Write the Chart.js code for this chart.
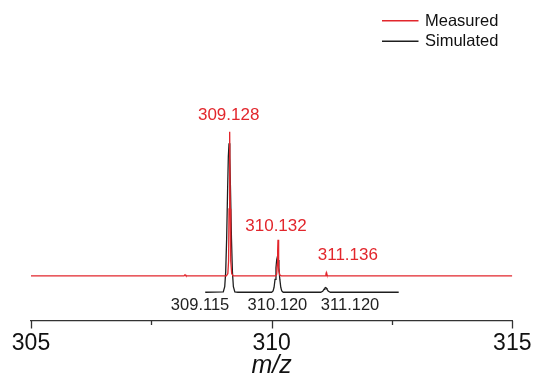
<!DOCTYPE html>
<html>
<head>
<meta charset="utf-8">
<title>m/z spectrum</title>
<script src="https://cdn.jsdelivr.net/npm/chart.js@4.4.1/dist/chart.umd.min.js"></script>
<style>
  html, body { margin: 0; padding: 0; background: #ffffff; }
  canvas { display: block; }
</style>
</head>
<body>
<canvas id="spectrum" width="534" height="377"></canvas>
<script>
// Measured profile (m/z, relative intensity)
const measuredMz = [
  305.00, 308.18, 308.20, 308.22,
  309.06, 309.09, 309.105, 309.115, 309.128, 309.14, 309.15, 309.17, 309.20,
  310.08, 310.105, 310.118, 310.125, 310.132, 310.14, 310.15, 310.17, 310.20,
  311.115, 311.128, 311.136, 311.145, 311.16,
  315.00
];
const measuredIntensity = [
  0, 0, 0.8, 0,
  0, 1.5, 10, 45, 96.8, 45, 10, 1.5, 0,
  0, 1, 8, 17, 24.2, 13, 4, 0.5, 0,
  0, 1.2, 2.2, 1.2, 0,
  0
];

// Simulated isotope pattern (m/z, relative intensity)
const simulatedMz = [
  308.62,
  308.995, 309.025, 309.045, 309.065, 309.085, 309.100, 309.115, 309.130, 309.145, 309.165, 309.185, 309.205, 309.235, 309.30,
  310.00, 310.03, 310.05, 310.07, 310.09, 310.105, 310.120, 310.135, 310.15, 310.17, 310.19, 310.21, 310.24,
  311.02, 311.06, 311.09, 311.105, 311.120, 311.135, 311.15, 311.18, 311.22,
  312.64
];
const simulatedIntensity = [
  0,
  0.3, 3.7, 13.5, 36, 69, 91, 100, 91, 69, 36, 13.5, 3.7, 0.3, 0,
  0, 0.9, 3.2, 8.6, 16.5, 21.7, 23.9, 21.7, 16.5, 8.6, 3.2, 0.9, 0,
  0, 0.6, 2.0, 2.8, 3.1, 2.8, 2.0, 0.6, 0,
  0
];

// Labelled peak positions
const measuredPeaks = [309.128, 310.132, 311.136];
const simulatedPeaks = [309.115, 310.120, 311.120];

// Axis range
const mzMin = 305;
const mzMax = 315;
const mzStep = 2.5;

// Vertical stacking: measured trace is lifted above the simulated one
const MEASURED_OFFSET = 11;

const RED = '#e2262c';
const BLACK = '#1e1e1e';
const FONT = '"Liberation Sans", Arial, Helvetica, sans-serif';

function toPoints(xs, ys, offset) {
  return xs.map((x, i) => ({ x: x, y: ys[i] + offset }));
}

// Peak annotations: text = m/z value, placed relative to the peak apex (px offsets)
const peakLabels = {
  id: 'peakLabels',
  afterDatasetsDraw(chart, args, opts) {
    const { ctx, scales: { x, y } } = chart;
    ctx.save();
    ctx.textAlign = 'center';
    ctx.textBaseline = 'middle';
    // measured: above each apex
    ctx.font = '17px ' + FONT;
    ctx.fillStyle = RED;
    measuredPeaks.forEach((mz, i) => {
      const h = measuredIntensity[measuredMz.indexOf(mz)] + MEASURED_OFFSET;
      const px = x.getPixelForValue(mz) + opts.measuredDx[i];
      const py = y.getPixelForValue(h) + opts.measuredDy[i];
      ctx.fillText(mz.toFixed(3), px, py);
    });
    // simulated: below the baseline
    ctx.font = '16.5px ' + FONT;
    ctx.fillStyle = '#222222';
    simulatedPeaks.forEach((mz, i) => {
      const px = x.getPixelForValue(mz) + opts.simulatedDx[i];
      const py = y.getPixelForValue(0) + opts.simulatedDy;
      ctx.fillText(mz.toFixed(3), px, py);
    });
    ctx.restore();
  }
};

// Outward tick marks: long on labelled ticks, short on the intermediate ones
const axisTicks = {
  id: 'axisTicks',
  afterDraw(chart) {
    const { ctx } = chart;
    const sx = chart.scales.x;
    ctx.save();
    ctx.strokeStyle = '#333333';
    ctx.lineWidth = 1.3;
    sx.ticks.forEach((t) => {
      const major = Math.abs(t.value % 5) < 1e-9;
      const px = Math.round(sx.getPixelForValue(t.value)) + 0.5;
      ctx.beginPath();
      ctx.moveTo(px, sx.top);
      ctx.lineTo(px, sx.top + (major ? 7.5 : 4));
      ctx.stroke();
    });
    ctx.restore();
  }
};

// Two-row legend in the upper right corner
const stackedLegend = {
  id: 'stackedLegend',
  afterDraw(chart) {
    const { ctx } = chart;
    ctx.save();
    ctx.font = '16.5px ' + FONT;
    ctx.textBaseline = 'middle';
    ctx.textAlign = 'left';
    chart.data.datasets.forEach((ds, i) => {
      const yy = 20.7 + i * 20.6;
      ctx.strokeStyle = ds.borderColor;
      ctx.lineWidth = 1.4;
      ctx.beginPath();
      ctx.moveTo(382, yy);
      ctx.lineTo(418.5, yy);
      ctx.stroke();
      ctx.fillStyle = '#111111';
      ctx.fillText(ds.label, 425, yy + 0.5);
    });
    ctx.restore();
  }
};

new Chart(document.getElementById('spectrum'), {
  type: 'line',
  data: {
    datasets: [
      {
        label: 'Measured',
        data: toPoints(measuredMz, measuredIntensity, MEASURED_OFFSET),
        borderColor: RED,
        borderWidth: 1.3,
        pointRadius: 0,
        tension: 0,
        fill: false
      },
      {
        label: 'Simulated',
        data: toPoints(simulatedMz, simulatedIntensity, 0),
        borderColor: BLACK,
        borderWidth: 1.3,
        pointRadius: 0,
        tension: 0,
        fill: false
      }
    ]
  },
  options: {
    responsive: false,
    devicePixelRatio: 1,
    animation: false,
    layout: { padding: { left: 31, right: 21.7, top: 0, bottom: 0 } },
    plugins: {
      legend: { display: false },
      tooltip: { enabled: false },
      peakLabels: {
        measuredDx: [-1, -2, 21.5],
        measuredDy: [-16, -13.5, -17.5],
        simulatedDx: [-29, 0, 24.5],
        simulatedDy: 13.7
      }
    },
    scales: {
      x: {
        type: 'linear',
        min: mzMin,
        max: mzMax,
        grid: { display: true, drawOnChartArea: false, drawTicks: false },
        border: { display: true, color: '#333333', width: 1.3 },
        ticks: {
          stepSize: mzStep,
          padding: 11,
          color: '#111111',
          font: { family: FONT, size: 23, lineHeight: 1 },
          callback: (v) => (Math.abs(v % 5) < 1e-9 ? String(v) : '')
        },
        title: {
          display: true,
          text: 'm/z',
          color: '#111111',
          font: { family: FONT, size: 25, style: 'italic', lineHeight: 0.85 },
          padding: { top: 0.75, bottom: 0 }
        },
        // fixed axis band; edge labels fit inside the layout padding
        afterFit(scale) {
          scale.height = 56;
          scale.paddingLeft = 0;
          scale.paddingRight = 0;
        }
      },
      y: {
        type: 'linear',
        display: false,
        min: -19.3,
        max: 196.2
      }
    }
  },
  plugins: [peakLabels, axisTicks, stackedLegend]
});
</script>
</body>
</html>
